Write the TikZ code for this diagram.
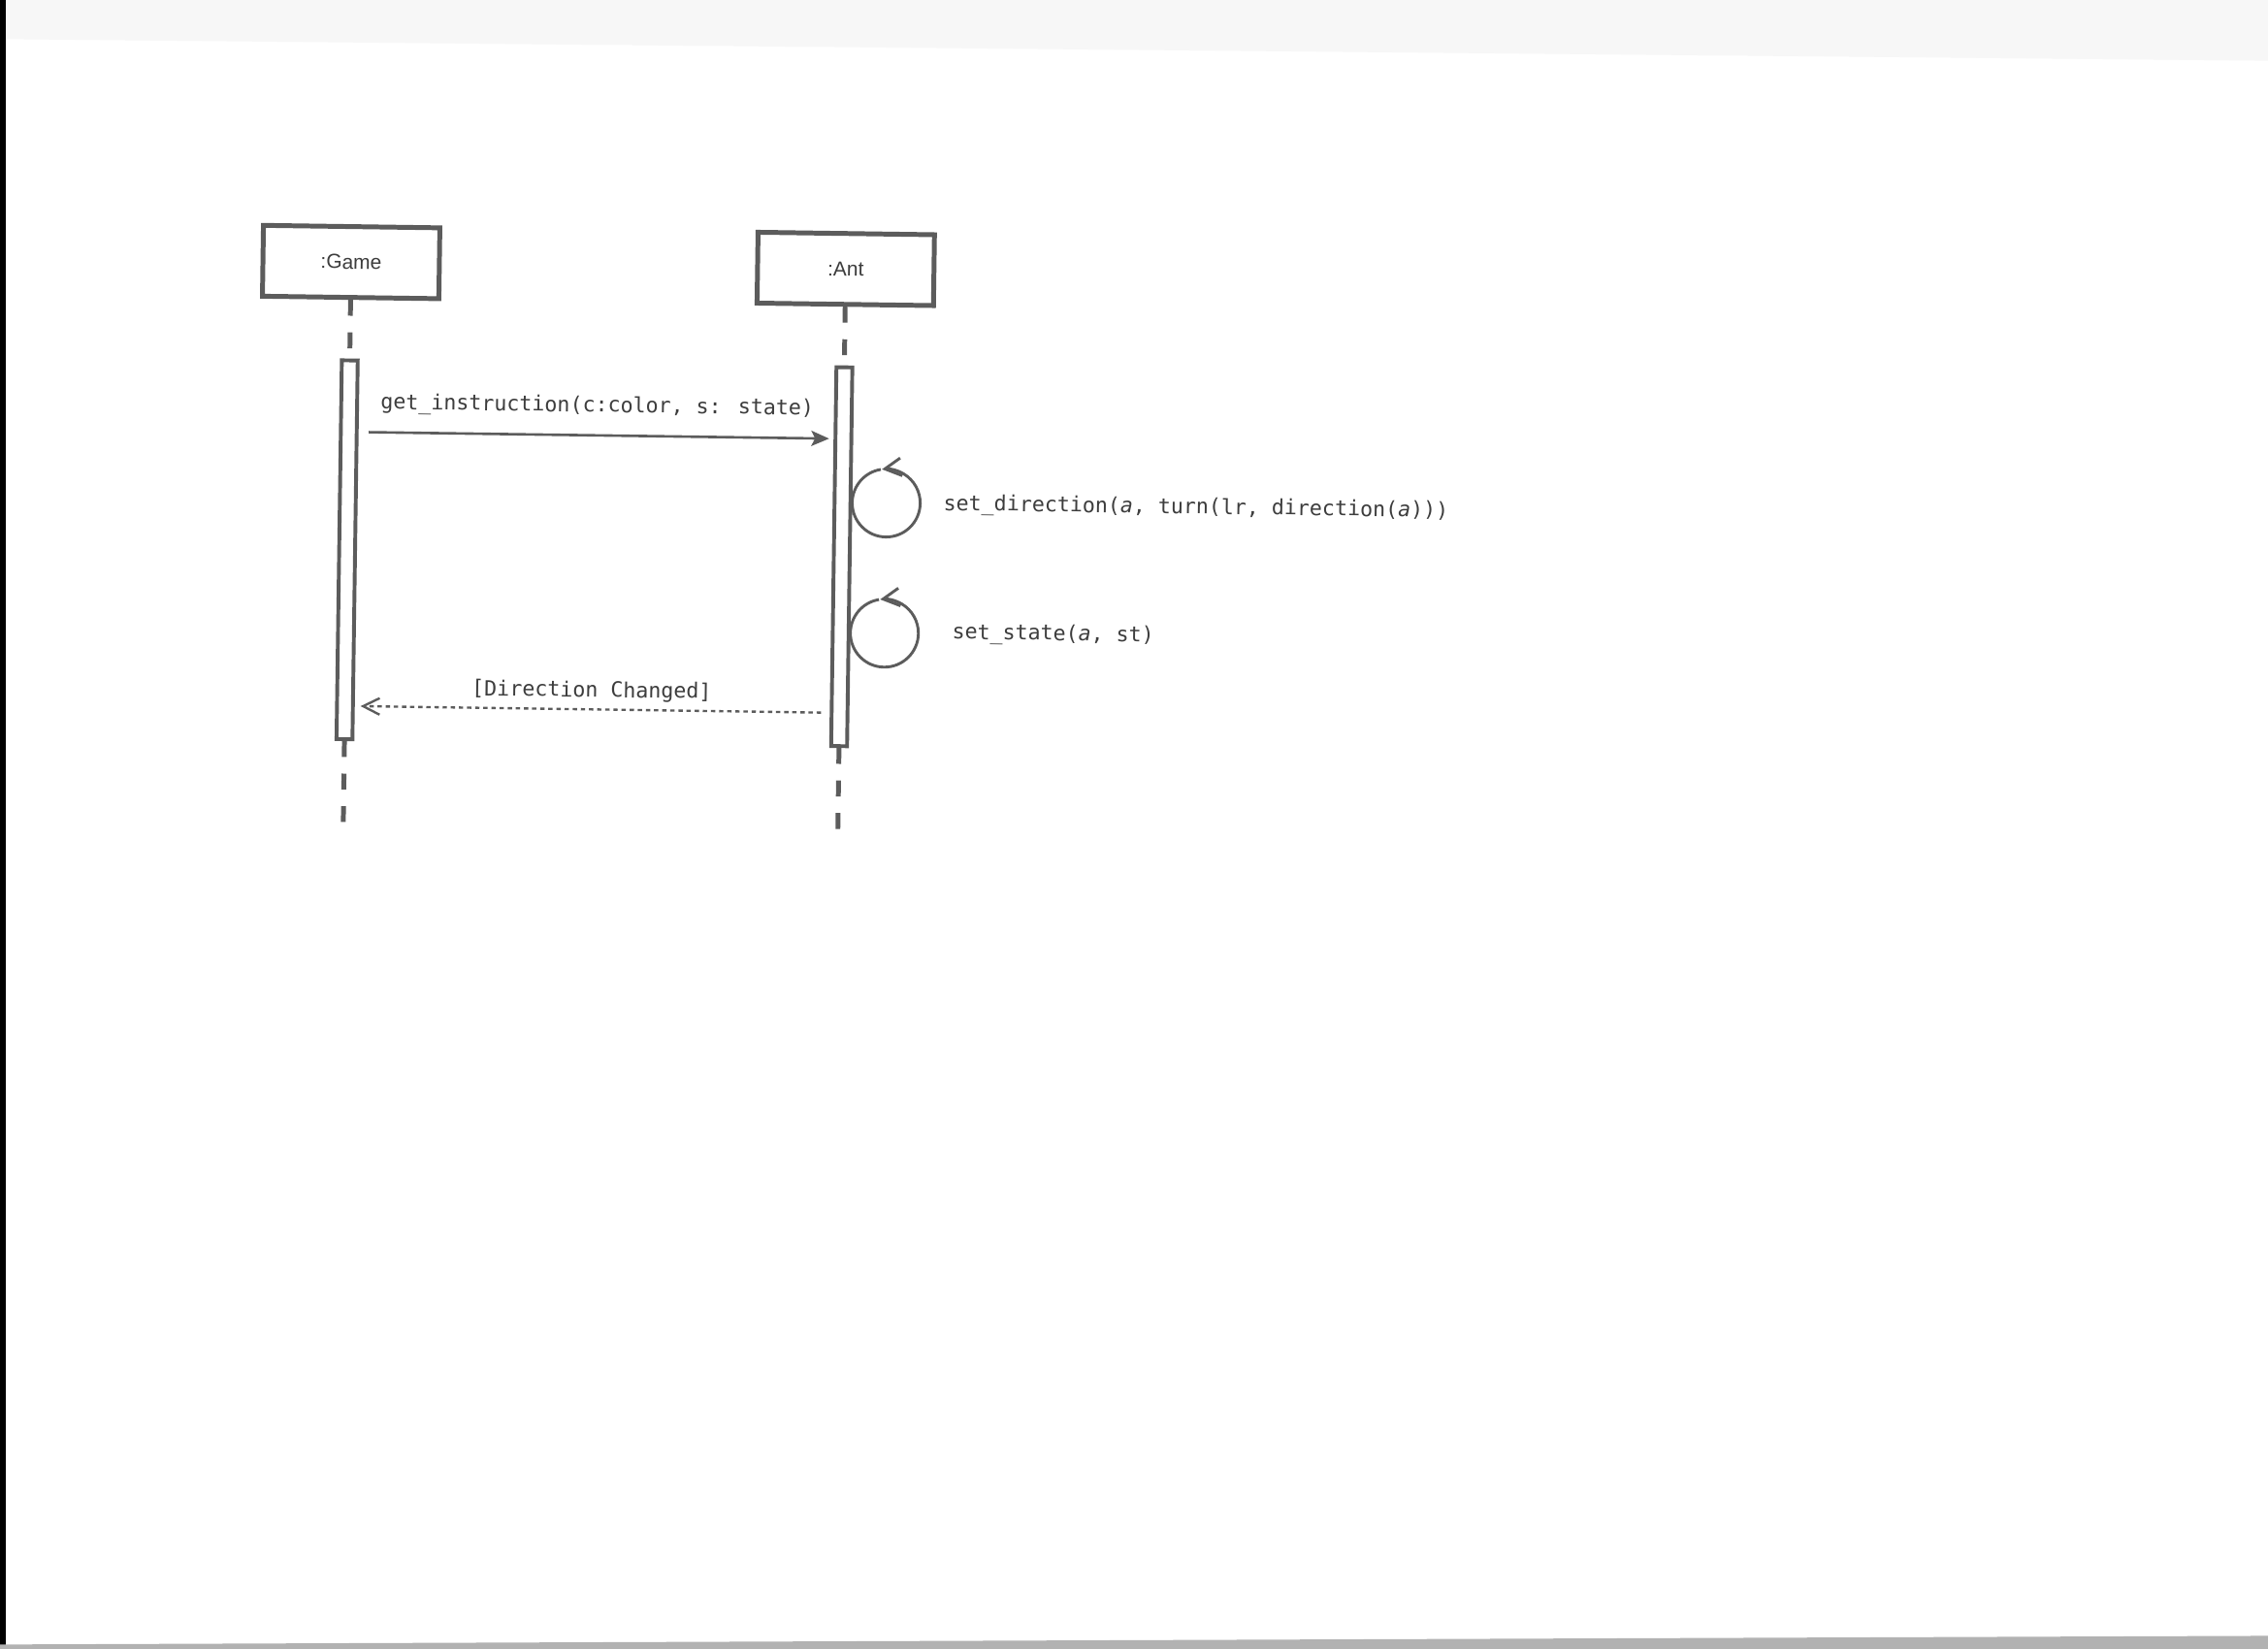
\documentclass[tikz,border=0pt]{standalone}
\usepackage{fontspec}
\setmainfont{Liberation Sans}
\newfontfamily\codefont{DejaVu Sans Mono}
\usetikzlibrary{arrows.meta}
\definecolor{ink}{gray}{0.36}
\definecolor{txt}{gray}{0.24}

\begin{document}
\begin{tikzpicture}[x=0.02cm,y=0.02cm,
        object/.style={draw=ink,line width=1.9pt,fill=white,minimum width=2.44cm,minimum height=0.98cm,inner sep=0pt,text=txt,font=\fontsize{8}{10}\selectfont},
        activation/.style={draw=ink,line width=1.5pt,fill=white,minimum width=0.22cm,minimum height=5.24cm,inner sep=0pt},
        lifeline/.style={draw=ink,line width=1.9pt,dash pattern=on 0.22cm off 0.23cm},
        call/.style={draw=ink,line width=1pt,-{Stealth[length=7pt,width=6pt,inset=1.5pt]}},
        selfcall/.style={draw=ink,line width=1.1pt,-{Straight Barb[length=6.5pt,width=7pt]}},
        reply/.style={draw=ink,line width=0.9pt,dash pattern=on 1.7pt off 1.5pt,-{Straight Barb[length=6.5pt,width=6.5pt]}},
        msglabel/.style={text=txt,inner sep=0pt,font=\codefont\fontsize{8.25}{10}\selectfont}]
    % paper
    \useasboundingbox (0,0) rectangle (1568,-1140);
    \fill[white] (0,0) rectangle (1568,-1140);
    \fill[gray!6] (0,0) -- (1568,0) -- (1568,-42) -- (0,-27) -- cycle;
    \fill[black] (0,0) rectangle (4,-1140);
    \fill[gray!60] (0,-1137) -- (1568,-1131) -- (1568,-1140) -- (0,-1140) -- cycle;
    \begin{scope}[rotate around={-0.8:(410,-380)},transform shape]
        % objects and lifelines
        \node[object] (game) at (240,-183.5) {:Game};
        \node[object] (ant) at (582,-183.5) {:Ant};
        \node[activation] (gameact) at (240,-382.5) {};
        \node[activation] (antact) at (582,-382.5) {};
        \coordinate (gameend) at (240,-572);
        \coordinate (antend) at (582,-572);
        \draw[lifeline] (game.south) -- (gameact.north);
        \draw[lifeline] (gameact.south) -- (gameend);
        \draw[lifeline] (ant.south) -- (antact.north);
        \draw[lifeline] (antact.south) -- (antend);
        % message rows
        \coordinate (callrow) at (0,-301);
        \coordinate (dirrow) at (0,-345);
        \coordinate (strow) at (0,-435);
        \coordinate (replyrow) at (0,-490.5);
        \draw[call,shorten <=0.14cm,shorten >=0.06cm] (gameact.east |- callrow) -- (antact.west |- callrow);
        \node[msglabel] (calltext) at (411.6,-281) {get\_instruction(c:color, s: state)};
        \foreach \row in {dirrow,strow}{
            \coordinate (loop) at (antact.east |- \row);
            \draw[draw=ink,line width=1.1pt] (loop) arc[start angle=180,end angle=100,radius=23.5];
            \draw[selfcall] (loop) arc[start angle=180,end angle=458,radius=23.5];
        }
        \node[msglabel,anchor=west] (dirtext) at (651.6,-345.6) {set\_direction({\itshape a}, turn(lr, direction({\itshape a})))};
        \node[msglabel,anchor=west] (sttext) at (658.8,-434.5) {set\_state({\itshape a}, st)};
        \draw[reply,shorten <=0.12cm,shorten >=0.08cm] (antact.west |- replyrow) -- (gameact.east |- replyrow);
        \node[msglabel] (replytext) at (410.4,-478) {[Direction Changed]};
    \end{scope}
\end{tikzpicture}
\end{document}
